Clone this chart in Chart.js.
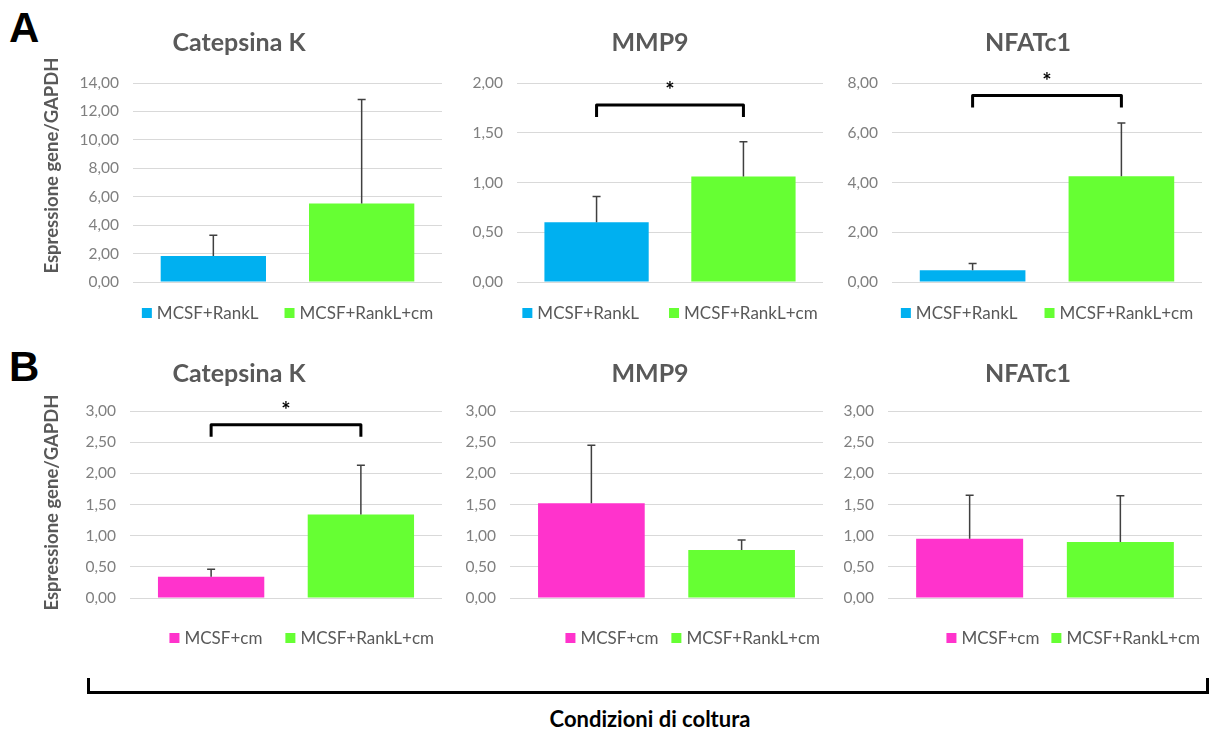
<!DOCTYPE html>
<html>
<head>
<meta charset="utf-8">
<title>Espressione genica</title>
<script src="https://cdn.jsdelivr.net/npm/chart.js@4/dist/chart.umd.min.js"></script>
<style>
  html, body { margin: 0; padding: 0; background: #fff; }
  body { width: 1212px; height: 729px; position: relative; overflow: hidden; font-family: Lato, "Open Sans", sans-serif; }
  .panel { position: absolute; }
  .tag { position: absolute; left: 9px; font: bold 42px "Liberation Sans", Arial, sans-serif; color: #000; line-height: 42px; }
  #groupLine { position: absolute; left: 87px; top: 678px; width: 1116px; height: 13px;
               border: 3px solid #000; border-top: none; }
  #xTitle { position: absolute; left: 400px; width: 500px; top: 705px; height: 26px; line-height: 26px;
            text-align: center; font: bold 22px Lato, sans-serif; color: #000; }
</style>
</head>
<body>
<div class="tag" style="top:7px">A</div>
<div class="tag" style="top:346px">B</div>

<canvas id="a0" class="panel" width="406" height="314" style="left:36px;top:18px"></canvas>
<canvas id="a1" class="panel" width="384" height="314" style="left:458px;top:18px"></canvas>
<canvas id="a2" class="panel" width="376" height="314" style="left:840px;top:18px"></canvas>
<canvas id="b0" class="panel" width="406" height="303" style="left:36px;top:345px"></canvas>
<canvas id="b1" class="panel" width="384" height="303" style="left:458px;top:345px"></canvas>
<canvas id="b2" class="panel" width="376" height="303" style="left:840px;top:345px"></canvas>

<div id="groupLine"></div>
<div id="xTitle">Condizioni di coltura</div>

<script>
// Genes measured (one panel per gene, per row)
const genes = ['Catepsina K', 'MMP9', 'NFATc1'];

// Row A conditions
const groupsA = ['MCSF+RankL', 'MCSF+RankL+cm'];
const meanRankL_A   = [1.83, 0.60, 0.47];
const meanRankLcm_A = [5.52, 1.06, 4.25];
const sdRankL_A     = [1.46, 0.26, 0.27];
const sdRankLcm_A   = [7.32, 0.35, 2.14];

// Row B conditions
const groupsB = ['MCSF+cm', 'MCSF+RankL+cm'];
const meanCm_B      = [0.34, 1.52, 0.95];
const meanRankLcm_B = [1.34, 0.77, 0.90];
const sdCm_B        = [0.12, 0.93, 0.70];
const sdRankLcm_B   = [0.79, 0.16, 0.74];

// Axis ranges
const yMaxA  = [14, 2, 8];
const yStepA = [2, 0.5, 2];
const yMaxB  = [3, 3, 3];
const yStepB = [0.5, 0.5, 0.5];

// Significance bracket level (data units), null when not significant
const sigLevelA = [null, 1.78, 7.5];
const sigLevelB = [2.78, null, null];

const yAxisTitle = 'Espressione gene/GAPDH';

const BLUE = '#00b0f0', GREEN = '#66ff33', PINK = '#ff33cc';
const GRAY_TXT = '#595959';

// Upper-only error bars with a small cap
const errorBars = {
  id: 'errorBars',
  afterDatasetsDraw(chart) {
    const ctx = chart.ctx, y = chart.scales.y;
    chart.data.datasets.forEach((ds, i) => {
      chart.getDatasetMeta(i).data.forEach((bar, j) => {
        const top = y.getPixelForValue(ds.data[j] + ds.errors[j]);
        ctx.save();
        ctx.strokeStyle = '#404040';
        ctx.lineWidth = 1.5;
        ctx.beginPath();
        ctx.moveTo(bar.x, bar.y);
        ctx.lineTo(bar.x, top);
        ctx.moveTo(bar.x - 4, top);
        ctx.lineTo(bar.x + 4, top);
        ctx.stroke();
        ctx.restore();
      });
    });
  }
};

// Bracket with asterisk joining the two bars
const sigBracket = {
  id: 'sigBracket',
  afterDraw(chart, args, opts) {
    if (opts.level == null) return;
    const ctx = chart.ctx, y = chart.scales.y;
    const x1 = chart.getDatasetMeta(0).data[0].x;
    const x2 = chart.getDatasetMeta(1).data[0].x;
    const yb = y.getPixelForValue(opts.level);
    ctx.save();
    ctx.strokeStyle = '#000';
    ctx.lineWidth = 3;
    ctx.lineJoin = 'round';
    ctx.beginPath();
    ctx.moveTo(x1, yb + 12);
    ctx.lineTo(x1, yb);
    ctx.lineTo(x2, yb);
    ctx.lineTo(x2, yb + 12);
    ctx.stroke();
    ctx.fillStyle = '#000';
    ctx.font = 'bold 22px Lato, sans-serif';
    ctx.textAlign = 'center';
    ctx.textBaseline = 'middle';
    ctx.fillText('*', (x1 + x2) / 2, yb - 14);
    ctx.restore();
  }
};

// Panel heading centred on the canvas, plus the rotated value-axis caption
const headings = {
  id: 'headings',
  afterDraw(chart, args, o) {
    const ctx = chart.ctx, ca = chart.chartArea;
    ctx.save();
    ctx.fillStyle = GRAY_TXT;
    ctx.textAlign = 'center';
    ctx.textBaseline = 'middle';
    ctx.font = 'bold 25px Lato, sans-serif';
    ctx.fillText(o.text, chart.width / 2, o.titleY);
    if (o.axisText) {
      ctx.font = 'bold 18.5px Lato, sans-serif';
      ctx.translate(o.axisX, (ca.top + ca.bottom) / 2 + o.axisShift);
      ctx.rotate(-Math.PI / 2);
      ctx.fillText(o.axisText, 0, 0);
    }
    ctx.restore();
  }
};

// Single-row legend under the plot area, built from the datasets
const rowLegend = {
  id: 'rowLegend',
  afterDraw(chart, args, o) {
    const ctx = chart.ctx, ca = chart.chartArea;
    ctx.save();
    ctx.font = o.size + 'px Lato, sans-serif';
    const items = chart.data.datasets.map(ds => ({
      text: ds.label, color: ds.backgroundColor,
      w: o.box + o.textGap + ctx.measureText(ds.label).width
    }));
    const total = items.reduce((s, it) => s + it.w, 0) + o.itemGap * (items.length - 1);
    let x = o.align === 'end' ? ca.right - o.endInset - total : (ca.left + ca.right) / 2 - total / 2;
    const y = ca.bottom + o.offset;
    ctx.textBaseline = 'middle';
    ctx.textAlign = 'left';
    items.forEach(it => {
      ctx.fillStyle = it.color;
      ctx.fillRect(x, y - o.box / 2, o.box, o.box);
      ctx.fillStyle = GRAY_TXT;
      ctx.fillText(it.text, x + o.box + o.textGap, y + 1);
      x += it.w + o.itemGap;
    });
    ctx.restore();
  }
};

function makePanel(id, gene, groups, colors, means, sds, yMax, yStep, sigLevel, opt) {
  new Chart(document.getElementById(id), {
    type: 'bar',
    data: {
      labels: [gene],
      datasets: groups.map((g, k) => ({
        label: g,
        data: [means[k]],
        errors: [sds[k]],
        backgroundColor: colors[k],
        borderWidth: 0,
        categoryPercentage: 0.96,
        barPercentage: 0.71
      }))
    },
    options: {
      responsive: false,
      animation: false,
      devicePixelRatio: 1,
      layout: { padding: { left: 0, right: opt.padRight, top: opt.padTop, bottom: 50 } },
      plugins: {
        tooltip: { enabled: false },
        legend: { display: false },
        title: { display: false },
        headings: {
          text: gene, titleY: opt.titleY,
          axisText: opt.showYTitle ? yAxisTitle : null, axisX: 16, axisShift: opt.axisShift
        },
        rowLegend: {
          align: opt.legendAlign, offset: opt.legendOffset, itemGap: opt.itemGap, endInset: opt.endInset,
          box: 10, textGap: 5, size: 17
        },
        sigBracket: { level: sigLevel }
      },
      scales: {
        x: { display: false },
        y: {
          min: 0, max: yMax,
          ticks: {
            stepSize: yStep, padding: 14, color: '#7f7f7f',
            font: { family: 'Lato', size: 15.5 },
            callback: v => Number(v).toFixed(2).replace('.', ',')
          },
          grid: { color: '#d9d9d9', drawTicks: false },
          border: { display: false },
          afterFit(s) { s.width = opt.yWidth; }
        }
      }
    },
    plugins: [errorBars, sigBracket, headings, rowLegend]
  });
}

const layoutA = [
  { padRight: 0,  yWidth: 97, showYTitle: true,  legendAlign: 'center', itemGap: 26, endInset: 0 },
  { padRight: 19, yWidth: 59, showYTitle: false, legendAlign: 'center', itemGap: 30, endInset: 0 },
  { padRight: 14, yWidth: 52, showYTitle: false, legendAlign: 'center', itemGap: 27, endInset: 0 }
];
const layoutB = [
  { padRight: 0,  yWidth: 94, showYTitle: true,  legendAlign: 'end', itemGap: 23, endInset: 8 },
  { padRight: 19, yWidth: 52, showYTitle: false, legendAlign: 'end', itemGap: 13, endInset: 3 },
  { padRight: 14, yWidth: 48, showYTitle: false, legendAlign: 'end', itemGap: 12, endInset: 2 }
];

genes.forEach((gene, i) => {
  makePanel('a' + i, gene, groupsA, [BLUE, GREEN],
    [meanRankL_A[i], meanRankLcm_A[i]], [sdRankL_A[i], sdRankLcm_A[i]],
    yMaxA[i], yStepA[i], sigLevelA[i],
    Object.assign({ padTop: 65, titleY: 25, axisShift: -17, legendOffset: 31 }, layoutA[i]));
  makePanel('b' + i, gene, groupsB, [PINK, GREEN],
    [meanCm_B[i], meanRankLcm_B[i]], [sdCm_B[i], sdRankLcm_B[i]],
    yMaxB[i], yStepB[i], sigLevelB[i],
    Object.assign({ padTop: 66, titleY: 29, axisShift: -2, legendOffset: 40 }, layoutB[i]));
});
</script>
</body>
</html>
